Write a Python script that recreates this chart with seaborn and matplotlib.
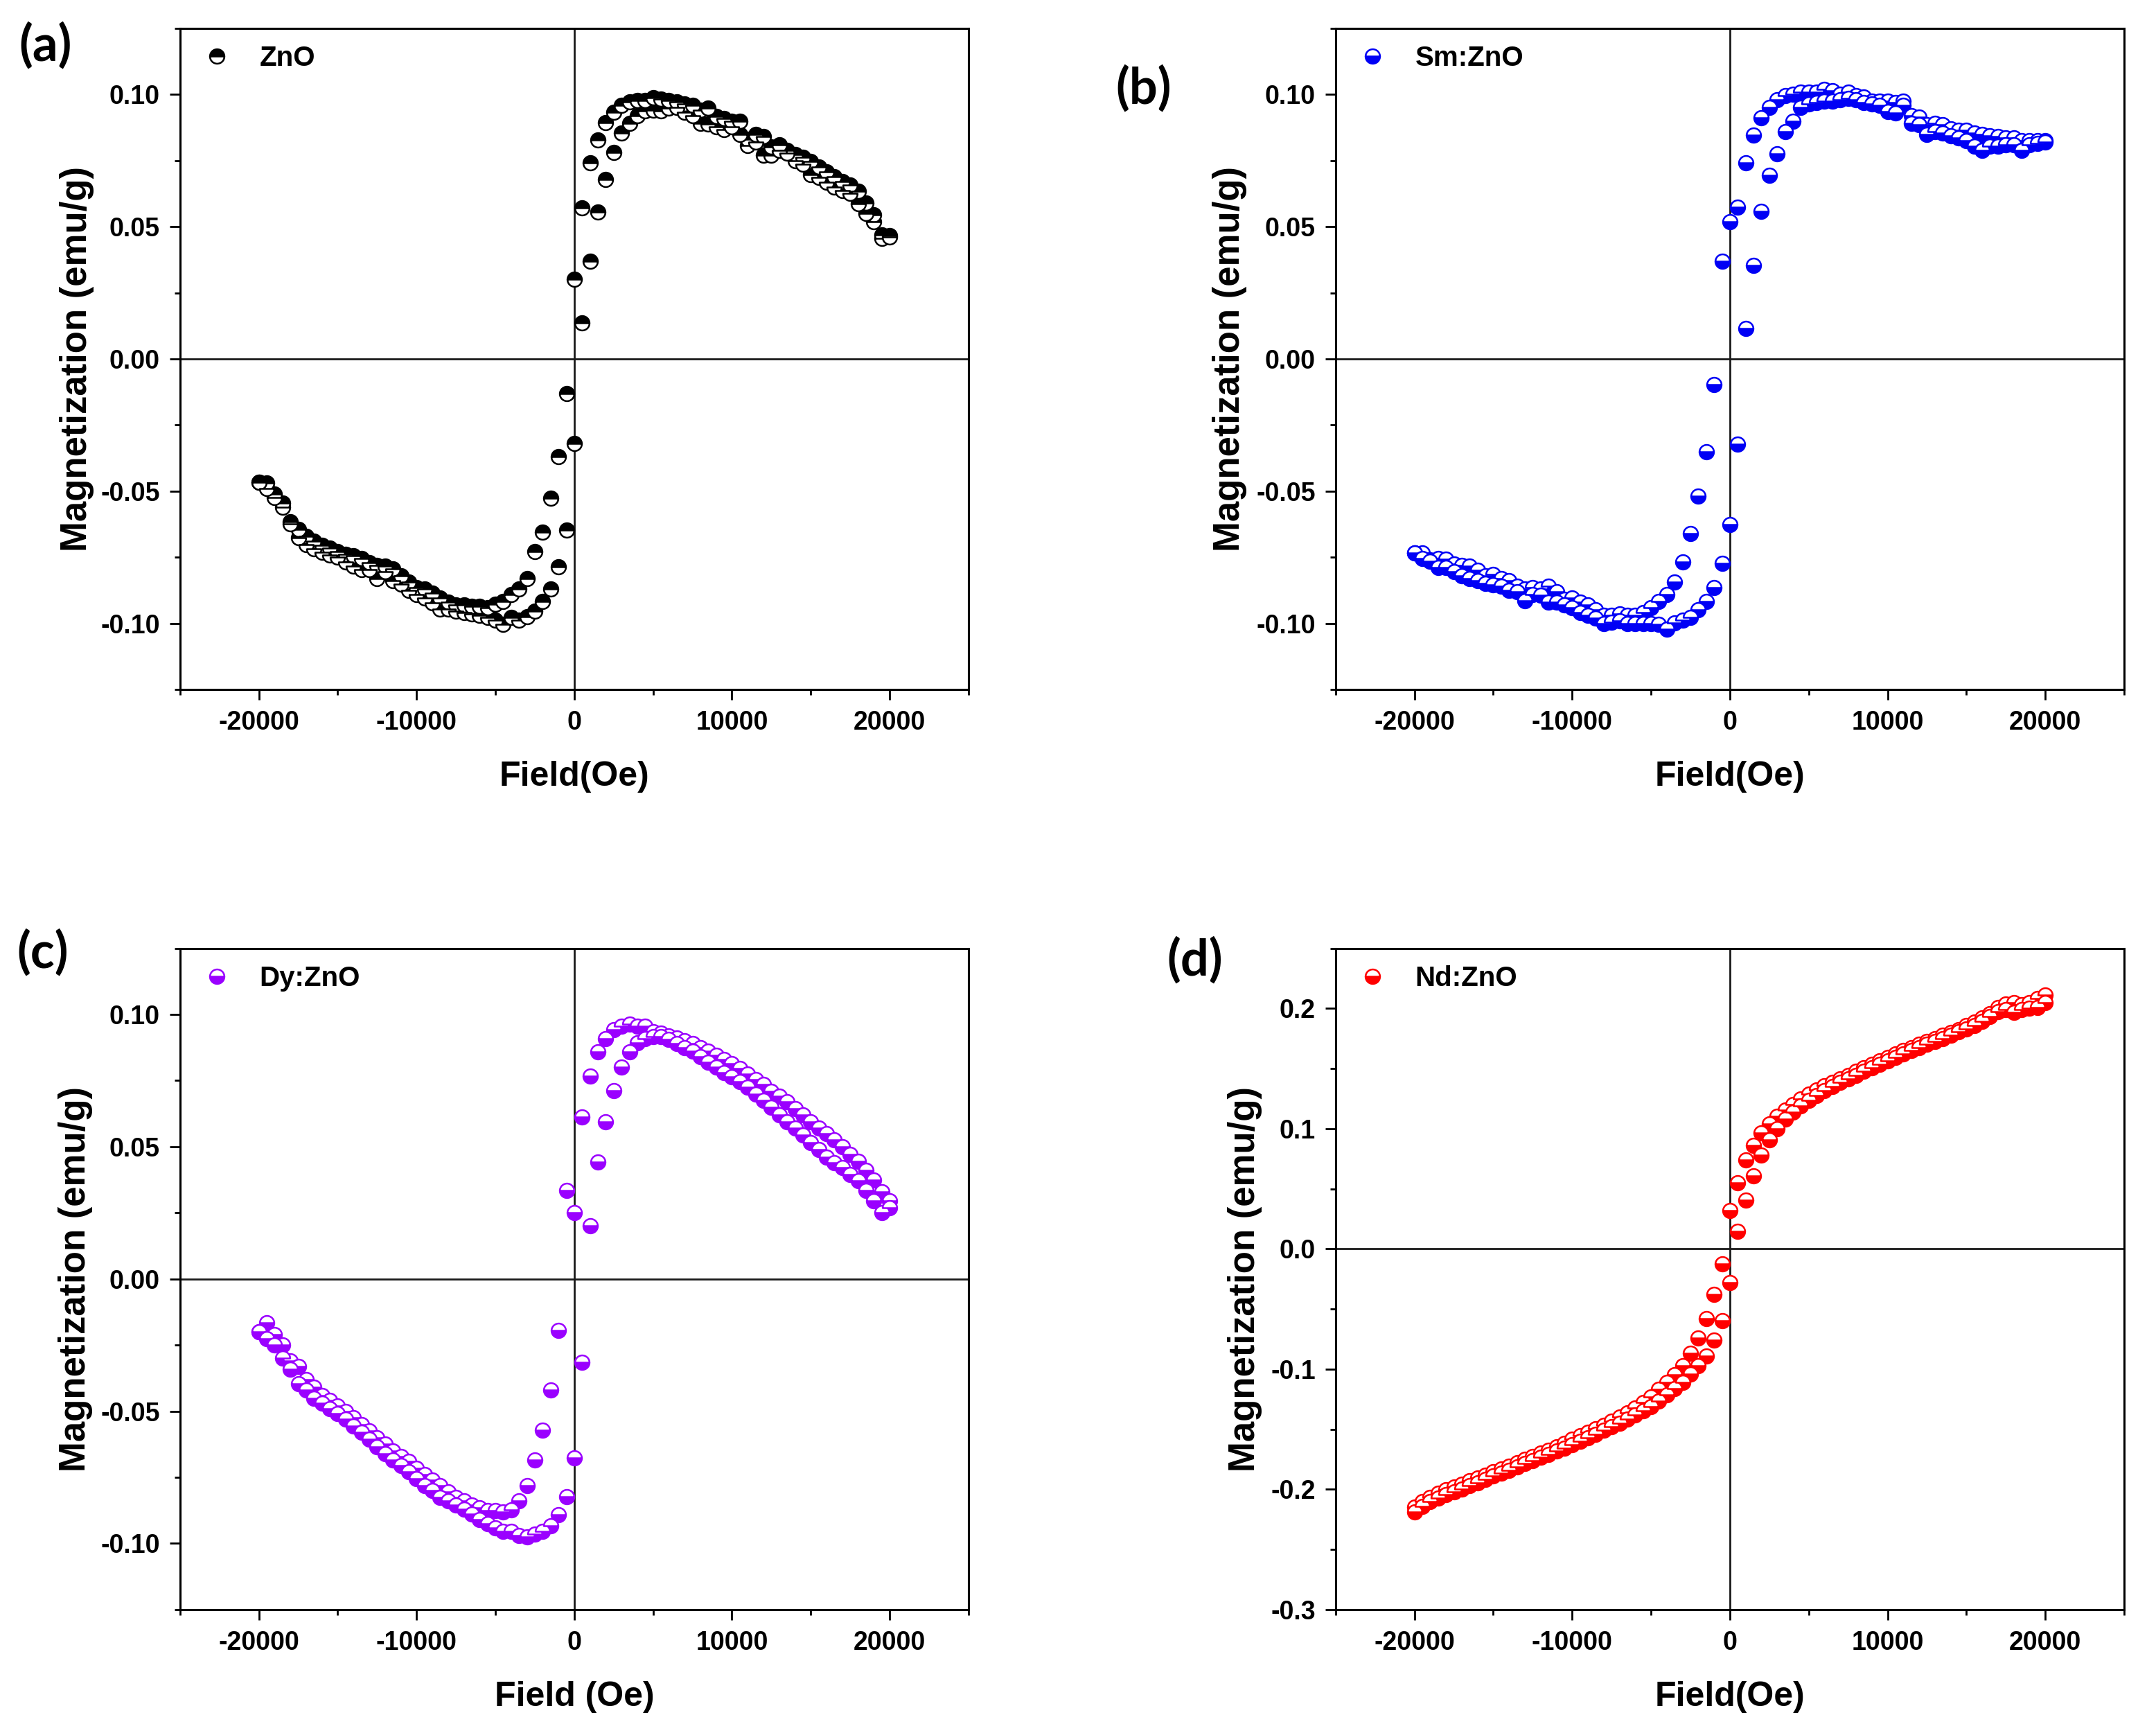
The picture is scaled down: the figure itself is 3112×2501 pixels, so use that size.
import matplotlib
matplotlib.use("Agg")
import matplotlib.pyplot as plt
from matplotlib.ticker import MultipleLocator, FormatStrFormatter
import pandas as pd
import seaborn as sns

sns.set_theme(style="ticks")
plt.rcParams["font.family"] = ["Liberation Sans", "DejaVu Sans"]
plt.rcParams["font.weight"] = "bold"
plt.rcParams["axes.unicode_minus"] = False
plt.rcParams.update({
    "axes.edgecolor": "black",
    "xtick.color": "black",
    "ytick.color": "black",
    "text.color": "black",
    "axes.labelcolor": "black",
})

# applied field, shared by every loop (Oe)
field_oe = [
    -20000, -19500, -19000, -18500, -18000, -17500, -17000, -16500, -16000, -15500,
    -15000, -14500, -14000, -13500, -13000, -12500, -12000, -11500, -11000, -10500,
    -10000, -9500, -9000, -8500, -8000, -7500, -7000, -6500, -6000, -5500,
    -5000, -4500, -4000, -3500, -3000, -2500, -2000, -1500, -1000, -500,
    0, 500, 1000, 1500, 2000, 2500, 3000, 3500, 4000, 4500,
    5000, 5500, 6000, 6500, 7000, 7500, 8000, 8500, 9000, 9500,
    10000, 10500, 11000, 11500, 12000, 12500, 13000, 13500, 14000, 14500,
    15000, 15500, 16000, 16500, 17000, 17500, 18000, 18500, 19000, 19500,
    20000,
]

# (a) ZnO
zno_down = [
    -0.0467, -0.0470, -0.0510, -0.0545, -0.0615, -0.0645, -0.0670, -0.0690, -0.0705, -0.0715,
    -0.0730, -0.0740, -0.0745, -0.0755, -0.0770, -0.0780, -0.0785, -0.0795, -0.0820, -0.0845,
    -0.0865, -0.0870, -0.0885, -0.0905, -0.0920, -0.0930, -0.0930, -0.0935, -0.0935, -0.0940,
    -0.0927, -0.0918, -0.0890, -0.0870, -0.0832, -0.0730, -0.0655, -0.0526, -0.0370, -0.0130,
    0.0300, 0.0572, 0.0742, 0.0827, 0.0893, 0.0933, 0.0958, 0.0973, 0.0978, 0.0978,
    0.0988, 0.0982, 0.0978, 0.0972, 0.0965, 0.0960, 0.0942, 0.0948, 0.0918, 0.0910,
    0.0900, 0.0898, 0.0832, 0.0850, 0.0840, 0.0802, 0.0810, 0.0790, 0.0772, 0.0762,
    0.0747, 0.0727, 0.0707, 0.0690, 0.0672, 0.0657, 0.0635, 0.0590, 0.0545, 0.0470,
    0.0466,
]
zno_up = [
    -0.0467, -0.0490, -0.0525, -0.0560, -0.0625, -0.0675, -0.0703, -0.0717, -0.0731, -0.0741,
    -0.0750, -0.0769, -0.0783, -0.0797, -0.0797, -0.0832, -0.0805, -0.0839, -0.0853, -0.0876,
    -0.0890, -0.0904, -0.0923, -0.0946, -0.0946, -0.0955, -0.0960, -0.0965, -0.0970, -0.0979,
    -0.0988, -0.1004, -0.0979, -0.0988, -0.0974, -0.0955, -0.0918, -0.0870, -0.0787, -0.0647,
    -0.0320, 0.0135, 0.0370, 0.0555, 0.0680, 0.0780, 0.0855, 0.0890, 0.0920, 0.0938,
    0.0940, 0.0938, 0.0948, 0.0950, 0.0933, 0.0920, 0.0890, 0.0888, 0.0878, 0.0868,
    0.0878, 0.0850, 0.0807, 0.0820, 0.0770, 0.0770, 0.0790, 0.0777, 0.0750, 0.0737,
    0.0697, 0.0687, 0.0667, 0.0650, 0.0637, 0.0625, 0.0587, 0.0550, 0.0520, 0.0455,
    0.0460,
]

# (b) Sm:ZnO
sm_down = [
    -0.0735, -0.0735, -0.0760, -0.0755, -0.0757, -0.0775, -0.0780, -0.0785, -0.0800, -0.0820,
    -0.0815, -0.0830, -0.0840, -0.0860, -0.0870, -0.0865, -0.0870, -0.0860, -0.0880, -0.0910,
    -0.0905, -0.0920, -0.0930, -0.0950, -0.0970, -0.0970, -0.0965, -0.0970, -0.0970, -0.0960,
    -0.0940, -0.0918, -0.0892, -0.0844, -0.0768, -0.0660, -0.0520, -0.0350, -0.0096, 0.0370,
    0.0520, 0.0575, 0.0741, 0.0846, 0.0912, 0.0952, 0.0980, 0.0995, 0.1000, 0.1010,
    0.1010, 0.1010, 0.1020, 0.1015, 0.1000, 0.1010, 0.0995, 0.0990, 0.0975, 0.0975,
    0.0975, 0.0970, 0.0975, 0.0920, 0.0915, 0.0885, 0.0890, 0.0885, 0.0870, 0.0865,
    0.0865, 0.0855, 0.0850, 0.0845, 0.0840, 0.0835, 0.0835, 0.0825, 0.0825, 0.0825,
    0.0825,
]
sm_up = [
    -0.0735, -0.0755, -0.0765, -0.0790, -0.0790, -0.0805, -0.0820, -0.0830, -0.0840, -0.0850,
    -0.0855, -0.0860, -0.0875, -0.0880, -0.0915, -0.0890, -0.0895, -0.0920, -0.0920, -0.0930,
    -0.0940, -0.0960, -0.0970, -0.0980, -0.1000, -0.0995, -0.0990, -0.1000, -0.1000, -0.1000,
    -0.1000, -0.1004, -0.1022, -0.0998, -0.0988, -0.0978, -0.0948, -0.0918, -0.0864, -0.0772,
    -0.0627, -0.0323, 0.0114, 0.0355, 0.0559, 0.0695, 0.0776, 0.0860, 0.0900, 0.0952,
    0.0965, 0.0970, 0.0975, 0.0975, 0.0980, 0.0985, 0.0980, 0.0970, 0.0965, 0.0960,
    0.0935, 0.0930, 0.0960, 0.0890, 0.0885, 0.0850, 0.0860, 0.0855, 0.0845, 0.0835,
    0.0825, 0.0805, 0.0790, 0.0805, 0.0805, 0.0810, 0.0810, 0.0790, 0.0810, 0.0815,
    0.0820,
]

# (c) Dy:ZnO
dy_down = [
    -0.0200, -0.0165, -0.0210, -0.0250, -0.0310, -0.0330, -0.0380, -0.0410, -0.0440, -0.0460,
    -0.0480, -0.0500, -0.0525, -0.0550, -0.0575, -0.0600, -0.0625, -0.0650, -0.0670, -0.0690,
    -0.0715, -0.0740, -0.0760, -0.0780, -0.0805, -0.0825, -0.0840, -0.0855, -0.0865, -0.0875,
    -0.0875, -0.0880, -0.0872, -0.0838, -0.0782, -0.0685, -0.0571, -0.0421, -0.0194, 0.0335,
    0.0250, 0.0611, 0.0768, 0.0858, 0.0908, 0.0942, 0.0955, 0.0964, 0.0955, 0.0955,
    0.0935, 0.0930, 0.0920, 0.0910, 0.0900, 0.0890, 0.0875, 0.0860, 0.0845, 0.0830,
    0.0815, 0.0795, 0.0775, 0.0755, 0.0735, 0.0710, 0.0690, 0.0670, 0.0645, 0.0620,
    0.0595, 0.0570, 0.0550, 0.0525, 0.0500, 0.0470, 0.0445, 0.0410, 0.0375, 0.0330,
    0.0295,
]
dy_up = [
    -0.0200, -0.0225, -0.0250, -0.0300, -0.0340, -0.0395, -0.0420, -0.0450, -0.0470, -0.0490,
    -0.0510, -0.0530, -0.0555, -0.0580, -0.0605, -0.0635, -0.0660, -0.0685, -0.0705, -0.0730,
    -0.0755, -0.0780, -0.0800, -0.0825, -0.0840, -0.0855, -0.0870, -0.0890, -0.0910, -0.0925,
    -0.0940, -0.0955, -0.0955, -0.0970, -0.0976, -0.0965, -0.0955, -0.0932, -0.0892, -0.0822,
    -0.0677, -0.0315, 0.0200, 0.0441, 0.0595, 0.0711, 0.0802, 0.0858, 0.0892, 0.0908,
    0.0915, 0.0915, 0.0905, 0.0890, 0.0875, 0.0860, 0.0840, 0.0820, 0.0800, 0.0780,
    0.0765, 0.0745, 0.0725, 0.0700, 0.0675, 0.0650, 0.0620, 0.0595, 0.0570, 0.0545,
    0.0515, 0.0490, 0.0460, 0.0440, 0.0420, 0.0395, 0.0370, 0.0335, 0.0295, 0.0250,
    0.0270,
]

# (d) Nd:ZnO
nd_down = [
    -0.2150, -0.2100, -0.2065, -0.2035, -0.2005, -0.1980, -0.1955, -0.1930, -0.1905, -0.1880,
    -0.1855, -0.1830, -0.1805, -0.1780, -0.1750, -0.1725, -0.1700, -0.1675, -0.1645, -0.1615,
    -0.1585, -0.1555, -0.1525, -0.1495, -0.1465, -0.1435, -0.1400, -0.1365, -0.1325, -0.1280,
    -0.1230, -0.1170, -0.1110, -0.1045, -0.0970, -0.0870, -0.0740, -0.0580, -0.0380, -0.0124,
    0.0318, 0.0552, 0.0742, 0.0860, 0.0962, 0.1037, 0.1100, 0.1155, 0.1200, 0.1245,
    0.1285, 0.1320, 0.1355, 0.1385, 0.1415, 0.1445, 0.1475, 0.1505, 0.1535, 0.1565,
    0.1595, 0.1620, 0.1650, 0.1675, 0.1700, 0.1725, 0.1750, 0.1775, 0.1800, 0.1825,
    0.1855, 0.1885, 0.1920, 0.1955, 0.2010, 0.2035, 0.2050, 0.2030, 0.2050, 0.2080,
    0.2110,
]
nd_up = [
    -0.2185, -0.2140, -0.2100, -0.2070, -0.2045, -0.2020, -0.1995, -0.1970, -0.1945, -0.1915,
    -0.1890, -0.1865, -0.1840, -0.1815, -0.1785, -0.1760, -0.1735, -0.1710, -0.1680, -0.1655,
    -0.1630, -0.1600, -0.1570, -0.1540, -0.1510, -0.1480, -0.1450, -0.1415, -0.1380, -0.1345,
    -0.1310, -0.1265, -0.1215, -0.1160, -0.1110, -0.1040, -0.0970, -0.0890, -0.0760, -0.0596,
    -0.0278, 0.0146, 0.0406, 0.0610, 0.0780, 0.0905, 0.1000, 0.1080, 0.1140, 0.1190,
    0.1235, 0.1275, 0.1315, 0.1350, 0.1385, 0.1415, 0.1445, 0.1475, 0.1505, 0.1535,
    0.1565, 0.1595, 0.1620, 0.1650, 0.1675, 0.1700, 0.1725, 0.1750, 0.1775, 0.1805,
    0.1830, 0.1860, 0.1890, 0.1930, 0.1975, 0.1990, 0.1965, 0.1990, 0.2000, 0.2010,
    0.2050,
]

panel_tags = ["(a)", "(b)", "(c)", "(d)"]
sample_names = ["ZnO", "Sm:ZnO", "Dy:ZnO", "Nd:ZnO"]
x_labels = ["Field(Oe)", "Field(Oe)", "Field (Oe)", "Field(Oe)"]
colors = ["black", "#0000f5", "#9a00ff", "#ff0000"]

fig = plt.figure(figsize=(15.56, 12.505), dpi=200)

rects = [
    [0.0835, 0.6022, 0.3657, 0.3814],
    [0.6195, 0.6022, 0.3657, 0.3814],
    [0.0835, 0.0712, 0.3657, 0.3816],
    [0.6195, 0.0712, 0.3657, 0.3816],
]
tag_xy = [(0.0212, 0.9736), (0.5305, 0.9488), (0.0199, 0.4502), (0.5543, 0.4458)]
ylabel_x = [-0.109, -0.112, -0.111, -0.093]
loops = [(zno_down, zno_up), (sm_down, sm_up), (dy_down, dy_up), (nd_down, nd_up)]

for i in range(4):
    ax = fig.add_axes(rects[i])
    down, up = loops[i]
    df = pd.DataFrame({"field": field_oe + field_oe, "m": down + up})
    color = colors[i]
    # ZnO markers are filled on top, the doped ones on the bottom
    fill = "top" if i == 0 else "bottom"

    ax.axhline(0, color="#1a1a1a", lw=1.0, zorder=1)
    ax.axvline(0, color="#1a1a1a", lw=1.0, zorder=1)

    sns.lineplot(
        data=df, x="field", y="m", ax=ax,
        estimator=None, sort=False, errorbar=None,
        linestyle="", marker="o", markersize=7.5,
        fillstyle=fill, color=color,
        markerfacecolor=color, markerfacecoloralt="white",
        markeredgecolor=color, markeredgewidth=0.9,
        label=sample_names[i], zorder=3,
    )

    ax.set_xlim(-25000, 25000)
    ax.xaxis.set_major_locator(MultipleLocator(10000))
    ax.xaxis.set_minor_locator(MultipleLocator(5000))
    ax.xaxis.set_major_formatter(FormatStrFormatter("%d"))
    if i == 3:
        ax.set_ylim(-0.3, 0.25)
        ax.yaxis.set_major_locator(MultipleLocator(0.1))
        ax.yaxis.set_minor_locator(MultipleLocator(0.05))
        ax.yaxis.set_major_formatter(FormatStrFormatter("%.1f"))
    else:
        ax.set_ylim(-0.125, 0.125)
        ax.yaxis.set_major_locator(MultipleLocator(0.05))
        ax.yaxis.set_minor_locator(MultipleLocator(0.025))
        ax.yaxis.set_major_formatter(FormatStrFormatter("%.2f"))

    ax.tick_params(which="major", direction="out", length=5.5, width=1.0,
                   labelsize=13.5, top=False, right=False)
    ax.tick_params(which="minor", direction="out", length=3.0, width=1.0,
                   top=False, right=False)
    ax.tick_params(axis="x", which="major", pad=5.5)
    ax.tick_params(axis="y", which="major", pad=5)
    for s in ax.spines.values():
        s.set_visible(True)
        s.set_linewidth(1.1)
        s.set_color("black")

    ax.set_xlabel(x_labels[i], fontsize=18, fontweight="bold")
    ax.xaxis.set_label_coords(0.5, -0.108)
    ax.set_ylabel("Magnetization (emu/g)", fontsize=19, fontweight="bold")
    ax.yaxis.set_label_coords(ylabel_x[i], 0.5)

    ax.legend(loc="upper left", frameon=False,
              prop={"size": 14.5, "weight": "bold", "family": ["Liberation Sans", "DejaVu Sans"]},
              handlelength=1.45, handletextpad=0.8, borderaxespad=0.2,
              borderpad=0.4, numpoints=1)

    fig.text(tag_xy[i][0], tag_xy[i][1], panel_tags[i], fontsize=26,
             fontweight="bold", family=["Lato", "DejaVu Sans"],
             ha="center", va="center")

fig.savefig("out.png", dpi=200, facecolor="white")
